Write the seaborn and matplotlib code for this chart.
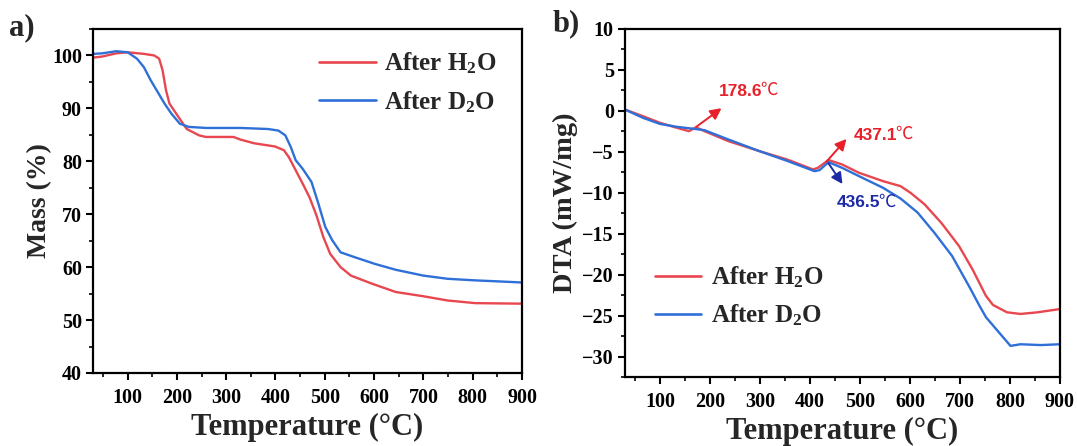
import numpy as np
import pandas as pd
import matplotlib
matplotlib.use("Agg")
import matplotlib.pyplot as plt
import seaborn as sns
from matplotlib.ticker import MultipleLocator

# ---------------- data ----------------
series_names = ["After H$_2$O", "After D$_2$O"]

tga_h2o_T = [31, 49, 77, 100, 133, 154, 164, 171, 178, 185, 203, 220, 245, 259, 315, 329, 357, 399,
             417, 427, 441, 455, 469, 483, 497, 511, 532, 553, 595, 644, 700, 749, 805, 900]
tga_h2o_m = [99.6, 99.8, 100.4, 100.6, 100.3, 100.0, 99.4, 97.2, 93.4, 90.9, 88.4, 86.1, 84.9, 84.6,
             84.6, 84.1, 83.4, 82.8, 82.1, 80.8, 78.3, 75.8, 73.2, 69.8, 65.7, 62.5, 60.0, 58.4, 56.9,
             55.3, 54.5, 53.7, 53.2, 53.1]

tga_d2o_T = [31, 49, 77, 100, 119, 133, 147, 161, 175, 189, 206, 224, 259, 329, 385, 406, 420, 431,
             441, 455, 473, 487, 501, 515, 532, 560, 602, 644, 700, 749, 805, 854, 900]
tga_d2o_m = [100.3, 100.4, 100.8, 100.6, 99.4, 97.8, 95.3, 93.1, 90.9, 89.0, 87.1, 86.5, 86.3, 86.3,
             86.1, 85.8, 84.9, 82.7, 80.2, 78.6, 76.1, 72.0, 67.6, 65.1, 62.8, 61.9, 60.6, 59.5, 58.4,
             57.8, 57.5, 57.3, 57.1]

dta_h2o_T = [30, 66, 100, 134, 158, 172, 189, 237, 299, 354, 406, 416, 437, 464, 498, 546, 581, 601,
             629, 663, 698, 725, 752, 766, 794, 821, 855, 900]
dta_h2o_v = [0.16, -0.65, -1.46, -2.07, -2.48, -2.0, -2.48, -3.7, -4.92, -5.93, -7.15, -6.95, -6.0,
             -6.54, -7.56, -8.58, -9.19, -10.0, -11.4, -13.7, -16.5, -19.35, -22.6, -23.7, -24.6,
             -24.8, -24.6, -24.2]

dta_d2o_T = [30, 66, 100, 134, 169, 189, 237, 299, 354, 409, 419, 437, 464, 498, 546, 581, 615, 649,
             684, 718, 739, 752, 773, 801, 821, 862, 900]
dta_d2o_v = [0.16, -0.85, -1.59, -1.95, -2.2, -2.36, -3.5, -4.92, -6.1, -7.36, -7.24, -6.26, -6.95,
             -7.97, -9.39, -10.7, -12.4, -14.9, -17.7, -21.4, -23.8, -25.2, -26.7, -28.7, -28.5,
             -28.6, -28.5]

peak_labels = ["178.6", "437.1", "436.5"]
x_ticks = [100, 200, 300, 400, 500, 600, 700, 800, 900]

# ---------------- style ----------------
sns.set_theme(style="ticks")
plt.rcParams["font.family"] = ["Liberation Serif", "DejaVu Serif"]
plt.rcParams["font.weight"] = "bold"
plt.rcParams["mathtext.fontset"] = "custom"
plt.rcParams["mathtext.rm"] = "Liberation Serif:bold"
plt.rcParams["mathtext.it"] = "Liberation Serif:bold"
plt.rcParams["mathtext.bf"] = "Liberation Serif:bold"

RED = "#e8474f"
BLUE = "#2f6fd8"
palette = {series_names[0]: RED, series_names[1]: BLUE}

tga = pd.concat([
    pd.DataFrame({"T": tga_h2o_T, "y": tga_h2o_m, "s": series_names[0]}),
    pd.DataFrame({"T": tga_d2o_T, "y": tga_d2o_m, "s": series_names[1]}),
])
dta = pd.concat([
    pd.DataFrame({"T": dta_h2o_T, "y": dta_h2o_v, "s": series_names[0]}),
    pd.DataFrame({"T": dta_d2o_T, "y": dta_d2o_v, "s": series_names[1]}),
])

fig = plt.figure(figsize=(10.77, 4.46), dpi=100)
ax1 = fig.add_axes([0.0864, 0.1637, 0.3983, 0.7713])
ax2 = fig.add_axes([0.5803, 0.1547, 0.4039, 0.7803])

sns.lineplot(data=tga, x="T", y="y", hue="s", palette=palette, ax=ax1,
             estimator=None, sort=False, linewidth=1.7)
sns.lineplot(data=dta, x="T", y="y", hue="s", palette=palette, ax=ax2,
             estimator=None, sort=False, linewidth=1.7)

for ax in (ax1, ax2):
    ax.set_xlim(30, 900)
    ax.set_xticks(x_ticks)
    ax.xaxis.set_minor_locator(MultipleLocator(50))
    for sp in ax.spines.values():
        sp.set_visible(True)
        sp.set_linewidth(1.6)
        sp.set_color("black")
    ax.tick_params(which="major", direction="out", length=5, width=1.5,
                   labelsize=14.5, colors="black")
    ax.tick_params(axis="x", which="major", pad=6)
    ax.tick_params(axis="y", which="major", pad=3)
    ax.tick_params(which="minor", direction="out", length=3, width=1.2, colors="black")
    for lab in ax.get_xticklabels() + ax.get_yticklabels():
        lab.set_fontweight("bold")
    ax.set_xlabel("Temperature (\u00b0C)", fontsize=22, fontweight="bold", labelpad=3)

ax1.set_ylim(40, 105)
ax1.set_yticks([40, 50, 60, 70, 80, 90, 100])
ax1.yaxis.set_minor_locator(MultipleLocator(5))
ax1.set_ylabel("Mass (%)", fontsize=20, fontweight="bold", labelpad=0)

ax2.set_ylim(-32.5, 10)
ax2.set_yticks([-30, -25, -20, -15, -10, -5, 0, 5, 10])
ax2.yaxis.set_minor_locator(MultipleLocator(2.5))
ax2.set_ylabel("DTA (mW/mg)", fontsize=20.5, fontweight="bold", labelpad=3)

leg1 = ax1.legend(loc="upper right", frameon=False, fontsize=18, handlelength=2.3,
                  handletextpad=0.3, labelspacing=0.5, bbox_to_anchor=(0.975, 0.98),
                  borderaxespad=0.2)
leg2 = ax2.legend(loc="lower left", frameon=False, fontsize=18, handlelength=1.85,
                  handletextpad=0.4, labelspacing=0.5, bbox_to_anchor=(0.017, 0.075))
for leg in (leg1, leg2):
    for t in leg.get_texts():
        t.set_fontweight("bold")
    for ln in leg.get_lines():
        ln.set_linewidth(1.9)

# panel labels
fig.text(0.008, 0.905, "a)", fontsize=22, fontweight="bold", ha="left", va="bottom")
fig.text(0.513, 0.915, "b)", fontsize=22, fontweight="bold", ha="left", va="bottom")

# annotations on DTA
ANN_RED = "#e8202a"
ANN_BLUE = "#1d2aa6"
ann = [
    (peak_labels[0], (173, -1.93), (223, 0.32), (218, 2.35), ANN_RED),
    (peak_labels[1], (433, -6.2), (473, -3.43), (488, -2.95), ANN_RED),
    (peak_labels[2], (437, -6.4), (465, -8.93), (453, -11.25), ANN_BLUE),
]
for lab, tail, head, tpos, col in ann:
    ax2.annotate("", xy=head, xytext=tail,
                 arrowprops=dict(arrowstyle="-|>,head_length=0.55,head_width=0.28",
                                 color=col, lw=1.4, shrinkA=0, shrinkB=0))
    t = ax2.text(tpos[0], tpos[1], lab, color=col, fontsize=12.5, fontweight="bold",
                 family=["Liberation Sans", "DejaVu Sans"], ha="left", va="center")
    ax2.annotate("\u2103", xy=(1, 0), xycoords=t, xytext=(-1.5, 0), textcoords="offset points",
                 ha="left", va="bottom", color=col, fontsize=12.5, fontweight="normal",
                 family=["Noto Sans CJK SC", "DejaVu Sans"])

fig.savefig("out.png", dpi=100)
